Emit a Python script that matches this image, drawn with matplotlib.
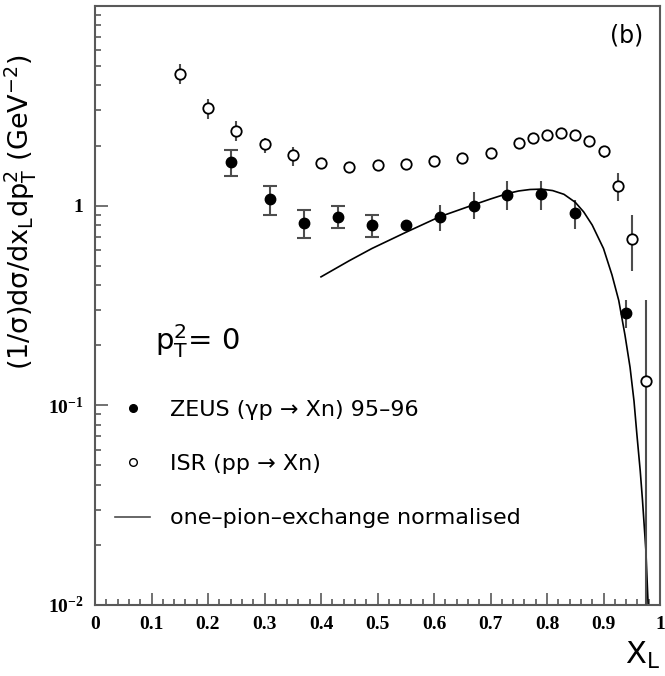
import matplotlib
matplotlib.use("Agg")
import matplotlib.pyplot as plt
from matplotlib.ticker import MultipleLocator, LogLocator, FixedLocator, NullFormatter
from matplotlib.lines import Line2D

plt.rcParams['mathtext.fontset'] = 'custom'
plt.rcParams['mathtext.rm'] = 'DejaVu Sans'
plt.rcParams['mathtext.it'] = 'DejaVu Sans:italic'
plt.rcParams['mathtext.bf'] = 'Liberation Serif:bold'
plt.rcParams['mathtext.sf'] = 'DejaVu Sans'

# ZEUS (gamma p -> Xn) 95-96, filled circles
zeus_x = [0.24, 0.31, 0.37, 0.43, 0.49, 0.55, 0.61, 0.67, 0.73, 0.79, 0.85, 0.94]
zeus_y = [1.66, 1.08, 0.82, 0.88, 0.80, 0.80, 0.88, 1.00, 1.135, 1.14, 0.914, 0.29]
zeus_hi = [1.91, 1.26, 0.955, 1.00, 0.90, 0.84, 1.01, 1.17, 1.33, 1.33, 1.07, 0.335]
zeus_lo = [1.40, 0.90, 0.69, 0.77, 0.70, 0.76, 0.75, 0.86, 0.955, 0.955, 0.76, 0.245]
n_capped = 5   # first points drawn with caps

# ISR (pp -> Xn), open circles
isr_x = [0.15, 0.20, 0.25, 0.30, 0.35, 0.40, 0.45, 0.50, 0.55, 0.60, 0.65, 0.70,
         0.75, 0.775, 0.80, 0.825, 0.85, 0.875, 0.90, 0.925, 0.95, 0.975]
isr_y = [4.56, 3.07, 2.36, 2.03, 1.80, 1.635, 1.57, 1.60, 1.62, 1.67, 1.73, 1.84,
         2.07, 2.19, 2.26, 2.30, 2.26, 2.11, 1.87, 1.26, 0.68, 0.133]
isr_hi = [5.13, 3.44, 2.64, 2.19, 1.96, 1.74, 1.66, 1.67, 1.69, 1.74, 1.80, 1.91,
          2.13, 2.25, 2.32, 2.36, 2.33, 2.19, 2.00, 1.46, 0.90, 0.335]
isr_lo = [4.07, 2.72, 2.10, 1.84, 1.58, 1.53, 1.48, 1.53, 1.55, 1.60, 1.66, 1.77,
          2.01, 2.13, 2.20, 2.24, 2.19, 2.03, 1.74, 1.06, 0.47, 0.005]

# one-pion-exchange curve (normalised)
ope_x = [0.40, 0.45, 0.49, 0.55, 0.61, 0.67, 0.70, 0.73, 0.75, 0.77, 0.79, 0.81,
         0.83, 0.85, 0.865, 0.88, 0.90, 0.915, 0.927, 0.938, 0.947, 0.954,
         0.959, 0.965, 0.969, 0.975, 0.979]
ope_y = [0.44, 0.53, 0.61, 0.735, 0.88, 1.01, 1.08, 1.15, 1.185, 1.205, 1.21, 1.19,
         1.14, 1.04, 0.93, 0.80, 0.61, 0.45, 0.335, 0.225, 0.155, 0.105,
         0.072, 0.047, 0.0335, 0.0188, 0.01]

xticks = [0.0, 0.1, 0.2, 0.3, 0.4, 0.5, 0.6, 0.7, 0.8, 0.9, 1.0]
xticklabels = ['0', '0.1', '0.2', '0.3', '0.4', '0.5', '0.6', '0.7', '0.8', '0.9', '1']
yticks = [0.01, 0.1, 1]
yticklabels = [r'$\mathbf{10^{-2}}$', r'$\mathbf{10^{-1}}$', r'$\mathbf{1}$']

W, H = 665, 676
fig = plt.figure(figsize=(W / 100, H / 100), dpi=100)
ax = fig.add_axes([95 / W, 1 - 605 / H, 565 / W, 599 / H])

ax.set_yscale('log')
ax.set_xlim(0, 1)
ax.set_ylim(0.01, 10)

ecol = '0.3'
# ZEUS
zx1, zy1 = zeus_x[:n_capped], zeus_y[:n_capped]
zerr1 = [[y - l for y, l in zip(zy1, zeus_lo[:n_capped])],
         [h - y for y, h in zip(zy1, zeus_hi[:n_capped])]]
ax.errorbar(zx1, zy1, yerr=zerr1, fmt='o', color='black', ms=7.5, ecolor=ecol,
            elinewidth=1.5, capsize=5, capthick=1.5)
zx2, zy2 = zeus_x[n_capped:], zeus_y[n_capped:]
zerr2 = [[y - l for y, l in zip(zy2, zeus_lo[n_capped:])],
         [h - y for y, h in zip(zy2, zeus_hi[n_capped:])]]
ax.errorbar(zx2, zy2, yerr=zerr2, fmt='o', color='black', ms=7.5, ecolor=ecol,
            elinewidth=1.5, capsize=0)

# ISR
ierr = [[y - l for y, l in zip(isr_y, isr_lo)], [h - y for y, h in zip(isr_y, isr_hi)]]
ax.errorbar(isr_x, isr_y, yerr=ierr, fmt='o', mfc='white', mec='black', mew=1.3,
            ms=7.5, ecolor=ecol, elinewidth=1.5, capsize=0, zorder=3)

# curve
ax.plot(ope_x, ope_y, color='black', lw=1.2)

# legend
handles = [Line2D([], [], marker='o', color='black', ls='none', ms=5.5),
           Line2D([], [], marker='o', mfc='white', mec='black', ls='none', ms=5.5, mew=1),
           Line2D([], [], color='0.3', lw=1.2)]
labels = ['ZEUS (\u03b3p \u2192 Xn) 95\u201396', 'ISR (pp \u2192 Xn)',
          'one\u2013pion\u2013exchange normalised']
ax.legend(handles, labels, loc='upper left', bbox_to_anchor=(0.035, 0.343),
          frameon=False, fontsize=16, handlelength=1.6, handletextpad=0.9,
          labelspacing=1.55, borderpad=0, borderaxespad=0)

ax.text(0.107, 0.44, r'$\mathrm{p_T^2}$= 0', transform=ax.transAxes, fontsize=21,
        va='center', ha='left')
ax.text(0.97, 0.97, '(b)', transform=ax.transAxes, fontsize=17, ha='right', va='top')

# axes styling
for s in ax.spines.values():
    s.set_color('0.35')
    s.set_linewidth(1.5)
ax.xaxis.set_major_locator(FixedLocator(xticks))
ax.xaxis.set_minor_locator(MultipleLocator(0.02))
ax.set_xticklabels(xticklabels)
ax.yaxis.set_major_locator(FixedLocator(yticks))
ax.yaxis.set_minor_locator(LogLocator(base=10, subs=range(2, 10), numticks=20))
ax.yaxis.set_minor_formatter(NullFormatter())
ax.set_yticklabels(yticklabels)
ax.tick_params(which='both', direction='in', top=False, right=False, color='0.35',
               width=1.2)
ax.tick_params(which='major', length=9, labelsize=14, pad=8)
ax.tick_params(which='minor', length=4.5)
for lab in ax.get_xticklabels() + ax.get_yticklabels():
    lab.set_fontfamily('Liberation Serif')
    lab.set_fontweight('bold')

ax.set_ylabel(r'$\mathrm{(1/\sigma)d\sigma/dx_L dp_T^2\ (GeV^{-2})}$', fontsize=19.5)
ax.yaxis.set_label_coords(-0.1, 0.655)
fig.text(660 / W, 1 - 655 / H, r'$\mathrm{X_L}$', fontsize=22, ha='right', va='center')

plt.savefig('out.png', dpi=100)
